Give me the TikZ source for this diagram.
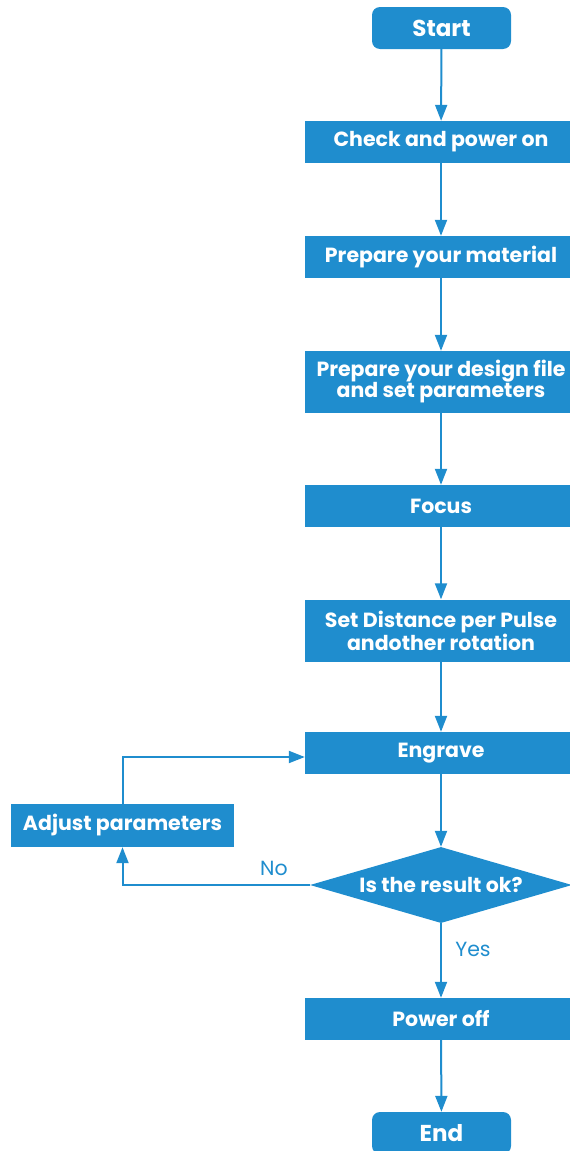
\documentclass[tikz,border=0pt]{standalone}
\usepackage{fontspec}
\setmainfont{Poppins}
\usetikzlibrary{arrows.meta,shapes.geometric}
\definecolor{flowblue}{RGB}{31,141,206}
\tikzset{
  box/.style={fill=flowblue, text=white, font=\bfseries\fontsize{20.5}{21}\selectfont,
    minimum width=272pt, minimum height=42pt, inner sep=0pt, align=center},
  tallbox/.style={box, minimum height=62pt},
  terminal/.style={box, rounded corners=8pt, minimum width=139pt,
    font=\bfseries\fontsize{23}{25}\selectfont},
  decision/.style={diamond, fill=flowblue, text=white, font=\bfseries\fontsize{20.5}{21}\selectfont,
    minimum width=262pt, minimum height=76pt, inner sep=0pt, shape aspect=3.4},
  link/.style={draw=flowblue, line width=2pt, -{Triangle[length=16pt,width=12pt]}},
  tag/.style={text=flowblue, font=\fontsize{20.5}{22}\selectfont}
}
\begin{document}
\begin{tikzpicture}[x=1pt,y=-1pt]
\useasboundingbox (0,0) rectangle (570,1151);
\clip (0,0) rectangle (570,1151);
\node[terminal] (start) at (441.5,28) {Start};
\node[box] (check) at (441,142) {Check and power on};
\node[box] (mat) at (441,257) {Prepare your material};
\node[tallbox] (design) at (441,382) {Prepare your design file\\and set parameters};
\node[box] (focus) at (441,506) {Focus};
\node[tallbox] (dist) at (441,630.5) {Set Distance per Pulse\\andother rotation};
\node[box] (engrave) at (441,753) {Engrave};
\node[box, minimum width=223pt, minimum height=43pt] (adjust) at (122.5,825.5) {Adjust parameters};
\node[decision] (ok) at (441,885) {Is the result ok?};
\node[box] (off) at (441,1019) {Power off};
\node[terminal] (end) at (441.5,1133) {End};

\draw[link] (start) -- (check);
\draw[link] (check) -- (mat);
\draw[link] (mat) -- (design);
\draw[link] (design) -- (focus);
\draw[link] (focus) -- (dist);
\draw[link] (dist) -- (engrave);
\draw[link] (engrave) -- (ok);
\draw[link] (ok) -- (off);
\draw[link] (off) -- (end);
\draw[link] (adjust.north) |- ([yshift=-4pt]engrave.west);
\draw[link] (ok.west) -| (adjust.south);
\node[tag] (no) at (274,868) {No};
\node[tag] (yes) at (473,949) {Yes};
\end{tikzpicture}
\end{document}
